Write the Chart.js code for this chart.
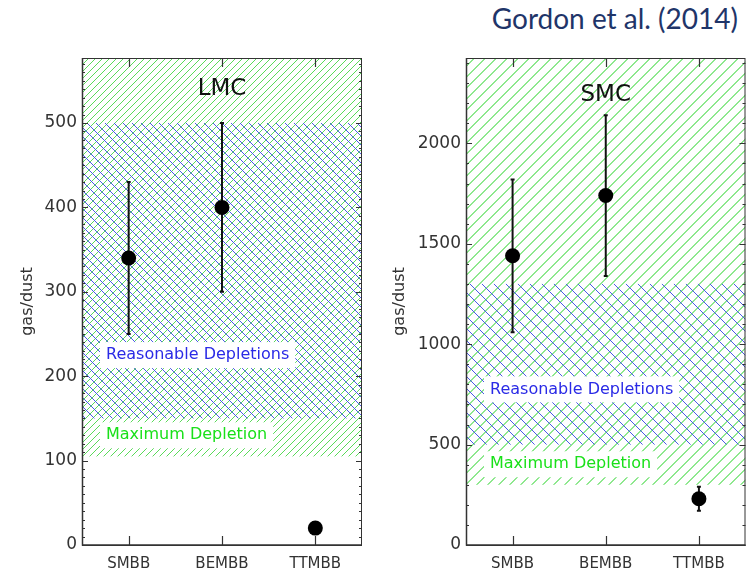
<!DOCTYPE html>
<html>
<head>
<meta charset="utf-8">
<script src="https://cdn.jsdelivr.net/npm/chart.js@4.4.0/dist/chart.umd.min.js"></script>
<style>
  body { margin: 0; background: #fff; width: 753px; height: 574px; overflow: hidden; position: relative; }
  .panel { position: absolute; top: 0; }
  #cite { position: absolute; right: 15px; top: 4px; font-family: Lato, "Open Sans", sans-serif; font-size: 28px; color: #1f3569; line-height: 1; white-space: nowrap; }
</style>
</head>
<body>
<div id="cite">Gordon et al. (2014)</div>
<canvas id="lmc" class="panel" width="375" height="574" style="left:0px"></canvas>
<canvas id="smc" class="panel" width="375" height="574" style="left:378px"></canvas>
<script>
// models on the x axis
const categories = ["SMBB", "BEMBB", "TTMBB"];

// LMC gas/dust
const lmcValues = [340, 400, 20];
const lmcErrLow = [250, 300, null];
const lmcErrHigh = [430, 500, null];
const lmcMaxDepletion = [105, 577];
const lmcReasonable = [150, 500];
const lmcYRange = [0, 577];
const lmcYTicks = [0, 100, 200, 300, 400, 500];
const lmcYMinor = 10;

// SMC gas/dust
const smcValues = [1440, 1740, 230];
const smcErrLow = [1060, 1340, 170];
const smcErrHigh = [1820, 2140, 290];
const smcMaxDepletion = [300, 2425];
const smcReasonable = [500, 1300];
const smcYRange = [0, 2425];
const smcYTicks = [0, 500, 1000, 1500, 2000];
const smcYMinor = 100;

// text placed in data units (y)
const lmcTextY = { title: 540, reasonable: 225, maximum: 130 };
const smcTextY = { title: 2243, reasonable: 775, maximum: 402 };

function hatch(size, color, dir, thick) {
  const c = document.createElement("canvas");
  c.width = size;
  c.height = size;
  const g = c.getContext("2d");
  g.fillStyle = color;
  for (let i = 0; i < size; i++) {
    for (let k = 0; k < thick; k++) {
      const xx = (i + k) % size;
      if (dir === "/") g.fillRect(xx, size - 1 - i, 1, 1);
      else g.fillRect(xx, i, 1, 1);
    }
  }
  return c;
}

const panelPlugin = {
  id: "panel",
  beforeDatasetsDraw(chart) {
    const p = chart.options.plugins.panel;
    const ctx = chart.ctx;
    const a = chart.chartArea;
    const y = chart.scales.y;
    const x = chart.scales.x;
    ctx.save();
    ctx.beginPath();
    ctx.rect(a.left, a.top, a.right - a.left, a.bottom - a.top);
    ctx.clip();
    // hatched bands
    const green = ctx.createPattern(hatch(p.spacing, p.greenColor, "/", p.thick), "repeat");
    const blue = ctx.createPattern(hatch(p.blueSpacing, "#4a5ae6", "\\", 1), "repeat");
    let t = y.getPixelForValue(p.maximum[1]), b = y.getPixelForValue(p.maximum[0]);
    ctx.fillStyle = green;
    ctx.fillRect(a.left, t, a.right - a.left, b - t);
    t = y.getPixelForValue(p.reasonable[1]);
    b = y.getPixelForValue(p.reasonable[0]);
    ctx.fillStyle = blue;
    ctx.fillRect(a.left, t, a.right - a.left, b - t);

    // band labels on white boxes
    ctx.font = "16px 'DejaVu Sans'";
    ctx.textBaseline = "middle";
    ctx.textAlign = "left";
    const labels = [
      ["Reasonable Depletions", p.textY.reasonable, "#2a2ae6"],
      ["Maximum Depletion", p.textY.maximum, "#19e019"],
    ];
    labels.forEach(([txt, v, col]) => {
      const yy = y.getPixelForValue(v);
      const w = ctx.measureText(txt).width;
      ctx.fillStyle = "#fff";
      ctx.fillRect(a.left + 18, yy - 13, w + 12, 26);
      ctx.fillStyle = col;
      ctx.fillText(txt, a.left + 24, yy);
    });

    // error bars
    ctx.strokeStyle = "#111";
    ctx.lineWidth = 2;
    p.errLow.forEach((lo, i) => {
      const hi = p.errHigh[i];
      if (lo == null || hi == null) return;
      const xx = x.getPixelForValue(i);
      const y1 = y.getPixelForValue(lo), y2 = y.getPixelForValue(hi);
      ctx.beginPath();
      ctx.moveTo(xx, y1);
      ctx.lineTo(xx, y2);
      ctx.moveTo(xx - 2, y1);
      ctx.lineTo(xx + 2, y1);
      ctx.moveTo(xx - 2, y2);
      ctx.lineTo(xx + 2, y2);
      ctx.stroke();
    });
    ctx.restore();
  },
  afterDatasetsDraw(chart) {
    const p = chart.options.plugins.panel;
    const ctx = chart.ctx;
    const a = chart.chartArea;
    const y = chart.scales.y;
    const x = chart.scales.x;
    ctx.save();
    ctx.strokeStyle = "#333";
    ctx.lineWidth = 1;
    ctx.strokeRect(a.left + 0.5, a.top + 0.5, a.right - a.left - 1, a.bottom - a.top);
    ctx.lineWidth = 1.5;
    ctx.beginPath();
    ctx.moveTo(a.left + 0.5, a.top);
    ctx.lineTo(a.left + 0.5, a.bottom);
    ctx.lineTo(a.right, a.bottom);
    ctx.stroke();

    // inward tick marks
    ctx.lineWidth = 1.2;
    ctx.beginPath();
    categories.forEach((c, i) => {
      const xx = Math.round(x.getPixelForValue(i)) + 0.5;
      ctx.moveTo(xx, a.bottom);
      ctx.lineTo(xx, a.bottom - 9);
      ctx.moveTo(xx, a.top);
      ctx.lineTo(xx, a.top + 9);
    });
    for (let v = y.min; v <= y.max; v += p.minor) {
      const yy = Math.round(y.getPixelForValue(v)) + 0.5;
      const len = p.ticks.includes(v) ? 6 : 3;
      ctx.moveTo(a.left, yy);
      ctx.lineTo(a.left + len, yy);
      ctx.moveTo(a.right, yy);
      ctx.lineTo(a.right - len, yy);
    }
    ctx.stroke();

    // panel title
    ctx.fillStyle = "#111";
    ctx.font = "23px 'DejaVu Sans'";
    ctx.textAlign = "center";
    ctx.textBaseline = "middle";
    ctx.fillText(p.title, (a.left + a.right) / 2, y.getPixelForValue(p.textY.title));

    // axis title
    ctx.translate(a.left - p.ylabelOffset, (a.top + a.bottom) / 2);
    ctx.rotate(-Math.PI / 2);
    ctx.font = "16px 'DejaVu Sans'";
    ctx.fillStyle = "#333";
    ctx.fillText("gas/dust", 0, 0);
    ctx.restore();
  },
};

function makePanel(id, opts) {
  new Chart(document.getElementById(id), {
    type: "line",
    data: {
      labels: categories,
      datasets: [
        {
          data: opts.values,
          showLine: false,
          pointRadius: 7.5,
          pointHoverRadius: 7.5,
          pointBackgroundColor: "#000",
          pointBorderColor: "#000",
          pointBorderWidth: 0,
        },
      ],
    },
    options: {
      responsive: false,
      animation: false,
      events: [],
      layout: { padding: { top: 58, right: opts.padRight, left: 0, bottom: 0 } },
      scales: {
        x: {
          type: "category",
          offset: true,
          grid: { display: false, drawTicks: false },
          border: { display: false },
          ticks: { color: "#333", font: { family: "DejaVu Sans", size: 15 }, padding: 10 },
          afterFit: (s) => { s.height = 29; },
        },
        y: {
          min: opts.range[0],
          max: opts.range[1],
          grid: { display: false, drawTicks: false },
          border: { display: false },
          afterBuildTicks: (s) => { s.ticks = opts.ticks.map((v) => ({ value: v })); },
          ticks: {
            callback: (v) => String(v),
            color: "#333",
            font: { family: "DejaVu Sans", size: 17 },
            padding: 5,
          },
          afterFit: (s) => { s.width = opts.axisWidth; },
        },
      },
      plugins: {
        legend: { display: false },
        tooltip: { enabled: false },
        panel: {
          title: opts.title,
          maximum: opts.maximum,
          reasonable: opts.reasonable,
          errLow: opts.errLow,
          errHigh: opts.errHigh,
          textY: opts.textY,
          ticks: opts.ticks,
          minor: opts.minor,
          spacing: opts.spacing,
          blueSpacing: opts.blueSpacing,
          thick: opts.thick,
          greenColor: opts.greenColor,
          ylabelOffset: opts.ylabelOffset,
        },
      },
    },
    plugins: [panelPlugin],
  });
}

makePanel("lmc", {
  title: "LMC",
  values: lmcValues,
  errLow: lmcErrLow,
  errHigh: lmcErrHigh,
  maximum: lmcMaxDepletion,
  reasonable: lmcReasonable,
  range: lmcYRange,
  ticks: lmcYTicks,
  minor: lmcYMinor,
  textY: lmcTextY,
  spacing: 7,
  blueSpacing: 9,
  thick: 1,
  greenColor: "#5ada5a",
  axisWidth: 82,
  padRight: 13,
  ylabelOffset: 54,
});

makePanel("smc", {
  title: "SMC",
  values: smcValues,
  errLow: smcErrLow,
  errHigh: smcErrHigh,
  maximum: smcMaxDepletion,
  reasonable: smcReasonable,
  range: smcYRange,
  ticks: smcYTicks,
  minor: smcYMinor,
  textY: smcTextY,
  spacing: 11,
  blueSpacing: 12,
  thick: 2,
  greenColor: "#8ee88e",
  axisWidth: 88,
  padRight: 7,
  ylabelOffset: 66,
});
</script>
</body>
</html>
